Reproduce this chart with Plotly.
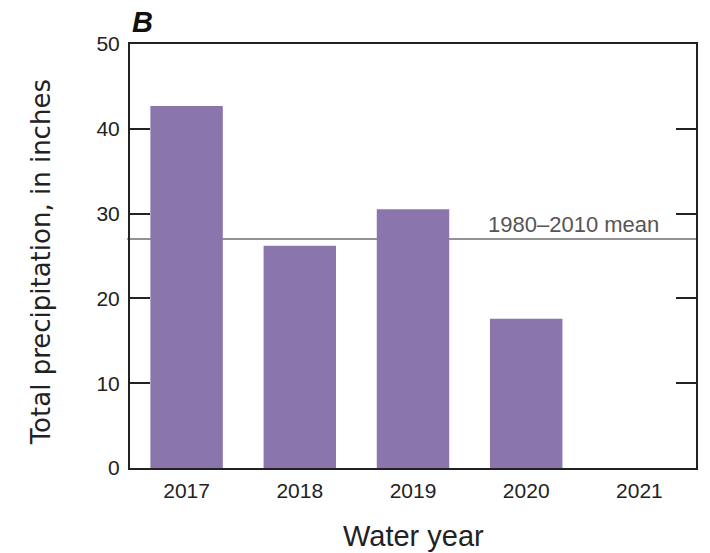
import plotly.graph_objects as go

# Annual totals by water year (2021 has no value yet)
water_years = ["2017", "2018", "2019", "2020", "2021"]
precip_in = [42.7, 26.2, 30.5, 17.6, None]
mean_1980_2010 = 27.0
y_ticks = [0, 10, 20, 30, 40, 50]

BAR_COLOR = "#8a76ad"
AXIS_COLOR = "#222222"
LABEL_FONT = "Liberation Sans, Arial, sans-serif"

fig = go.Figure()

fig.add_trace(go.Bar(
    x=water_years,
    y=precip_in,
    width=0.64,
    marker=dict(color=BAR_COLOR, line=dict(width=0)),
    showlegend=False,
))

# Long-term mean reference line
fig.add_shape(
    type="line", xref="paper", yref="y",
    x0=-0.005, x1=1, y0=mean_1980_2010, y1=mean_1980_2010,
    line=dict(color="#6e6e6e", width=1.5),
    layer="below",
)
fig.add_annotation(
    text="1980\u20132010 mean",
    xref="paper", yref="y",
    x=0.783, y=mean_1980_2010,
    xanchor="center", yanchor="bottom",
    showarrow=False,
    font=dict(family=LABEL_FONT, size=22, color="#555555"),
)

# Panel letter
fig.add_annotation(
    text="<b><i>B</i></b>",
    xref="paper", yref="paper",
    x=0, y=1, xanchor="left", yanchor="bottom",
    yshift=4, showarrow=False,
    font=dict(family=LABEL_FONT, size=29, color="#111111"),
)

# Axis titles
fig.add_annotation(
    text="Total precipitation, in inches",
    xref="paper", yref="paper",
    x=(41 - 130) / 566, y=0.485,
    xanchor="center", yanchor="middle",
    textangle=-90, showarrow=False,
    font=dict(family="DejaVu Sans, sans-serif", size=26, color="#222222"),
)
fig.add_annotation(
    text="Water year",
    xref="paper", yref="paper",
    x=0.5, y=-0.160,
    xanchor="center", yanchor="middle",
    showarrow=False,
    font=dict(family=LABEL_FONT, size=29, color="#222222"),
)

fig.update_layout(
    width=710, height=553,
    margin=dict(l=130, r=14, t=44, b=85),
    paper_bgcolor="white",
    plot_bgcolor="white",
    bargap=0.36,
)

fig.update_xaxes(
    type="category",
    categoryorder="array", categoryarray=water_years,
    range=[-0.5, 4.5],
    showline=True, linecolor=AXIS_COLOR, linewidth=2, mirror=True,
    ticks="", showgrid=False, zeroline=False,
    tickfont=dict(family=LABEL_FONT, size=21, color="#222222"),
    ticklabelstandoff=3,
)

fig.update_yaxes(
    range=[0, 50],
    tickvals=y_ticks,
    ticktext=[str(v) for v in y_ticks],
    showline=True, linecolor=AXIS_COLOR, linewidth=2, mirror="ticks",
    ticks="inside", ticklen=20, tickwidth=2, tickcolor=AXIS_COLOR,
    showgrid=False, zeroline=False,
    tickfont=dict(family=LABEL_FONT, size=21, color="#222222"),
    ticklabelstandoff=4,
)

fig.write_html("out.html")
